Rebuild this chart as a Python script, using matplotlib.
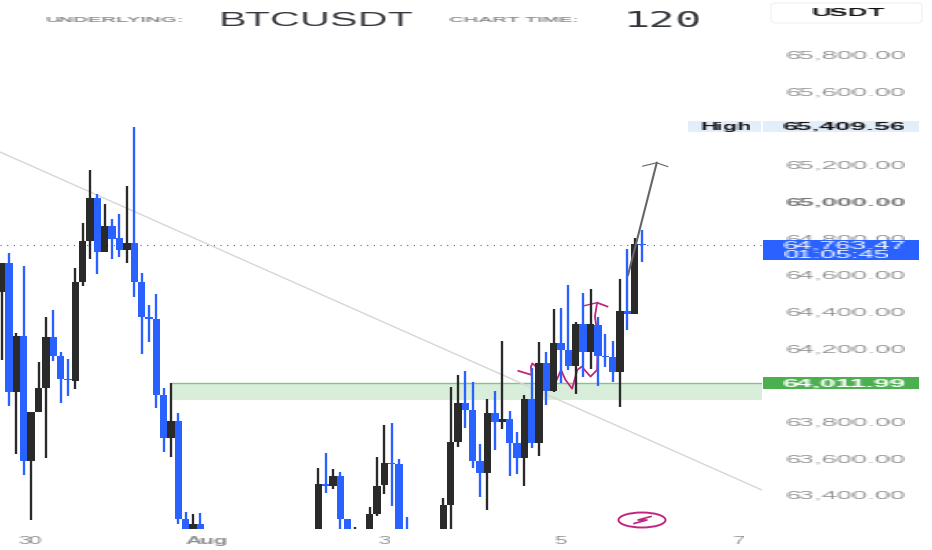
import numpy as np
import matplotlib
matplotlib.use("Agg")
import matplotlib.pyplot as plt
from matplotlib.lines import Line2D
from matplotlib.patches import Ellipse, FancyBboxPatch, Rectangle

plt.rcParams["font.family"] = ["Liberation Sans", "DejaVu Sans"]

BLUE = "#2962ff"
BLACK = "#2a2a2a"
MAGENTA = "#c2257f"

# visible 2h bars only, the rest sit below the cut at the bottom of the chart
bar_idx = [0, 1, 2, 3, 4, 5, 6, 7, 8, 9, 10, 11, 12, 13, 14, 15, 16, 17, 18, 19, 20, 21, 22, 23, 24, 25, 26, 27,
           43, 44, 45, 46, 47, 48, 50, 51, 52, 53, 54, 55,
           60, 61, 62, 63, 64, 65, 66, 67, 68, 69, 70, 71, 72, 73, 74, 75, 76, 77, 78, 79, 80, 81, 82, 83, 84, 85, 86, 87]
opens = [64509, 64664, 63964, 64267, 63587, 63855, 63982, 64264, 64158, 64031, 64024, 64564, 64786, 65022,
         64727, 64869, 64800, 64736, 64776, 64564, 64369, 64360, 63946, 63713, 63804, 63267, 63100, 63240,
         63100, 63458, 63451, 63504, 63271, 63100, 63100, 63295, 63453, 63573, 63567, 63150,
         63100, 63346, 63691, 63904, 63866, 63587, 63518, 63845, 63800, 63815, 63682, 63600, 63922, 63682,
         64122, 63969, 64231, 64191, 64104, 64331, 64182, 64328, 64160, 64151, 64073, 64404, 64389, 64767]
highs = [64664, 64718, 64282, 64649, 63855, 64127, 64369, 64409, 64178, 64142, 64640, 64882, 65173, 65040,
         64985, 64904, 64933, 65085, 65409, 64609, 64436, 64495, 63986, 64009, 63846, 63306, 63297, 63300,
         63546, 63631, 63540, 63527, 63271, 63227, 63336, 63606, 63780, 63791, 63595, 63282,
         63386, 63991, 64055, 64076, 64018, 63676, 63925, 63969, 64240, 63856, 63745, 63945, 64091, 64237,
         64182, 64413, 64418, 64546, 64342, 64500, 64522, 64369, 64278, 64240, 64578, 64742, 64800, 64846]
lows = [64136, 63886, 63622, 63509, 63264, 63855, 63600, 64133, 63904, 63942, 63978, 64542, 64687, 64606,
        64727, 64687, 64700, 64667, 64478, 64169, 64235, 63876, 63637, 63609, 63240, 63100, 63100, 63100,
        63100, 63413, 63435, 63100, 63100, 63100, 63100, 63287, 63404, 63342, 63100, 63100,
        63100, 63100, 63664, 63764, 63546, 63391, 63318, 63645, 63760, 63504, 63515, 63451, 63655, 63613,
        63891, 63964, 64009, 64082, 63949, 64046, 64088, 63995, 64097, 64018, 63882, 64300, 64389, 64669]
closes = [64664, 63964, 64267, 63587, 63855, 63982, 64264, 64158, 64031, 64026, 64564, 64786, 65022, 64727,
          64869, 64796, 64736, 64776, 64564, 64369, 64362, 63946, 63713, 63804, 63267, 63190, 63240, 63150,
          63458, 63451, 63504, 63271, 63100, 63180, 63296, 63451, 63573, 63567, 63100, 63100,
          63346, 63691, 63904, 63866, 63587, 63518, 63845, 63798, 63815, 63682, 63600, 63922, 63682, 64122,
          63969, 64231, 64191, 64104, 64331, 64182, 64331, 64160, 64153, 64073, 64404, 64389, 64767, 64762]

price_ticks = [65800, 65600, 65200, 65000, 64800, 64600, 64400, 64200, 63800, 63600, 63400]
date_ticks = [4, 28, 52, 76, 100]
date_labels = ["30", "Aug", "3", "5", "7"]

last_price = 64763.47
high_price = 65409.56
zone_top = 64011.99
zone_bottom = 63918
zone_start = 23

trend_x = [-0.23, 103.3]
trend_y = [65271, 63427]
arrow_x = [85.1, 89.0]
arrow_y = [64600, 65212]
head_x = [87.1, 89.0, 90.5]
head_y = [65194, 65212, 65191]
scribble_x = [70.2, 72.0, 71.9, 72.1, 72.6, 73.4, 75.2, 76.0, 76.6, 77.5, 78.2, 78.8, 80.0, 80.9, 81.0, 80.6, 80.9, 82.3]
scribble_y = [64077, 64055, 64100, 64118, 64100, 64028, 64009, 64082, 64028, 63980, 64082, 64100, 64046, 64082, 64264, 64373, 64449, 64428]
scribble2_x = [79.2, 80.9]
scribble2_y = [64433, 64449]


def stretch_x(factor):
    # the screenshot is squashed, so the letters are much wider than any font
    def flt(img, dpi):
        h, w, _ = img.shape
        new_w = int(w * factor)
        pos = np.clip((np.arange(new_w) + 0.5) / factor - 0.5, 0, w - 1)
        i0 = np.floor(pos).astype(int)
        i1 = np.clip(i0 + 1, 0, w - 1)
        t = (pos - i0)[None, :, None]
        return img[:, i0] * (1 - t) + img[:, i1] * t, -(new_w - w) // 2, 0
    return flt


fig = plt.figure(figsize=(9.32, 5.5), dpi=100)
ax = fig.add_axes([0, 21 / 550, 762 / 932, 529 / 550])
ax.set_xlim(-1.7 / 7.36, 760.3 / 7.36)
ax.set_ylim(63214.5, 66100)
renderer = fig.canvas.get_renderer()


def label(cx, cy, s, width, size, color, weight="normal", family=None, zorder=6):
    # cx, cy and width are pixels of the 932x550 picture
    t = fig.text(cx / 932, 1 - cy / 550, s, ha="center", va="center", fontsize=size, color=color,
                 fontweight=weight, family=family, zorder=zorder)
    t.set_agg_filter(stretch_x(width / t.get_window_extent(renderer).width))
    return t


def box(x0, y0, x1, y1, color):
    fig.add_artist(Rectangle((x0 / 932, 1 - y1 / 550), (x1 - x0) / 932, (y1 - y0) / 550,
                             transform=fig.transFigure, facecolor=color, edgecolor="none", zorder=5))


# zone, trend line, last price
ax.add_patch(Rectangle((zone_start, zone_bottom), 200, zone_top - zone_bottom, facecolor="#d9eddb", edgecolor="none", zorder=1))
ax.plot([zone_start, 200], [zone_top, zone_top], color="#81c784", lw=1, zorder=1.2)
ax.plot(trend_x, trend_y, color="#d6d6d6", lw=1, zorder=1.5)
ax.axhline(last_price, color=BLUE, lw=0.8, ls=(0, (1, 5)), zorder=1.6)
ax.plot(scribble_x, scribble_y, color=MAGENTA, lw=1.3, zorder=2)
ax.plot(scribble2_x, scribble2_y, color=MAGENTA, lw=1, zorder=2)

# candles
x = np.array(bar_idx)
o = np.array(opens)
h = np.array(highs)
l = np.array(lows)
c = np.array(closes)
colors = [BLACK if cl >= op else BLUE for op, cl in zip(o, c)]
ax.vlines(x, l, h, colors=colors, lw=1.7, zorder=3)
ax.bar(x, np.abs(c - o), bottom=np.minimum(o, c), width=1.0, color=colors, linewidth=0, zorder=3.5)

ax.plot(arrow_x, arrow_y, color="#666666", lw=1.5, zorder=4)
ax.plot(head_x, head_y, color="#666666", lw=0.8, zorder=4)

# axes
for s in ax.spines.values():
    s.set_visible(False)
ax.yaxis.tick_right()
ax.set_yticks(price_ticks)
ax.set_yticklabels([f"{p:,.2f}" for p in price_ticks])
ax.set_xticks(date_ticks)
ax.set_xticklabels(date_labels)
ax.tick_params(axis="y", length=0, pad=60, labelsize=7.5, labelcolor="#8e8e8e")
ax.tick_params(axis="x", length=0, pad=5, labelsize=7, labelcolor="#8c8c8c")
for t in ax.get_yticklabels():
    t.set_ha("center")
    t.set_agg_filter(stretch_x(2.65))
    if t.get_text() == "65,000.00":
        t.set_fontweight("bold")
        t.set_color("#777777")
for t in ax.get_xticklabels():
    t.set_agg_filter(stretch_x(2.3))
    if t.get_text() == "Aug":
        t.set_fontweight("bold")

# header
label(115, 21, "UNDERLYING:", 140, 6, "#8a8a8a", weight="bold")
label(317, 21, "BTCUSDT", 196, 15, "#33363d")
label(514, 21, "CHART TIME:", 130, 6, "#8a8a8a", weight="bold")
label(663, 21, "120", 80, 15, "#33363d", family="DejaVu Sans Mono")

# price scale tags
fig.add_artist(FancyBboxPatch((771 / 932, 1 - 23 / 550), 151 / 932, 20 / 550, boxstyle="round,pad=0,rounding_size=0.006",
                              transform=fig.transFigure, facecolor="white", edgecolor="#efefef", lw=0.8, zorder=5))
label(848, 13, "USDT", 75, 8, "#111111", weight="bold")

box(688, 121, 761, 132, "#e3eefb")
box(763, 121, 919, 132, "#e3eefb")
label(725.5, 126.5, "High", 53, 7.5, "#111111", weight="bold")
label(844, 126.5, f"{high_price:,.2f}", 125, 7.5, "#111111", weight="bold")

box(763, 240, 919, 260, BLUE)
label(844, 245.5, f"{last_price:,.2f}", 125, 7.5, "white")
label(837, 255.5, "01:05:45", 108, 7.5, "white")

box(763, 377, 919, 389, "#4caf50")
label(844, 383.5, f"{zone_top:,.2f}", 125, 7.5, "white", weight="bold")

# lightning badge
fig.add_artist(Ellipse((642 / 932, 1 - 520 / 550), 47 / 932, 15 / 550, transform=fig.transFigure,
                       facecolor="white", edgecolor=MAGENTA, lw=1.4, zorder=5))
fig.add_artist(Line2D([651 / 932, 638 / 932, 647 / 932, 634 / 932],
                      [1 - 516.5 / 550, 1 - 520 / 550, 1 - 520 / 550, 1 - 523.5 / 550],
                      transform=fig.transFigure, color=MAGENTA, lw=1.2, zorder=6))

fig.savefig("out.png", dpi=100)
